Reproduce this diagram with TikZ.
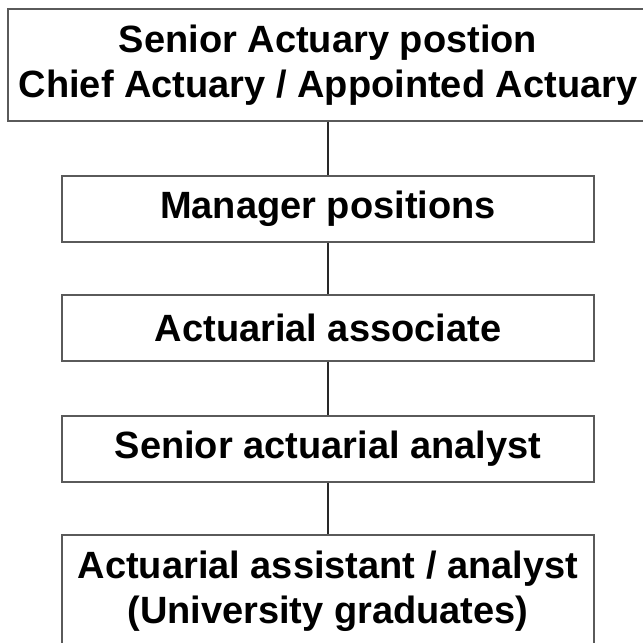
\documentclass[tikz,border=0pt]{standalone}
\usepackage{fontspec}
\setmainfont{Liberation Sans}
\definecolor{boxline}{RGB}{90,90,90}
\definecolor{linkline}{RGB}{40,40,40}
\begin{document}
\begin{tikzpicture}[x=1pt,y=-1pt,
  rank/.style={draw=boxline, line width=1.3pt, fill=white, inner sep=0pt,
    align=center, font=\fontsize{38}{45}\selectfont\bfseries},
  link/.style={draw=linkline, line width=1.4pt}]
\useasboundingbox (0,0) rectangle (643,643);
\fill[white] (0,0) rectangle (643,643);
\clip (0,0) rectangle (643,643);
\node[rank, minimum width=640pt, minimum height=112pt] (top) at (328,65)
  {Senior Actuary postion\\Chief Actuary / Appointed Actuary};
\node[rank, minimum width=532pt, minimum height=66pt] (mgr) at (328,209)
  {Manager positions};
\node[rank, minimum width=532pt, minimum height=66pt] (assoc) at (328,328)
  {Actuarial associate};
\node[rank, minimum width=532pt, minimum height=66pt] (senior) at (328,449)
  {Senior actuarial analyst};
\node[rank, minimum width=532pt, minimum height=113pt] (asst) at (328,591.5)
  {Actuarial assistant / analyst\\(University graduates)};
\draw[link] (top.south) -- (mgr.north);
\draw[link] (mgr.south) -- (assoc.north);
\draw[link] (assoc.south) -- (senior.north);
\draw[link] (senior.south) -- (asst.north);
\end{tikzpicture}
\end{document}
